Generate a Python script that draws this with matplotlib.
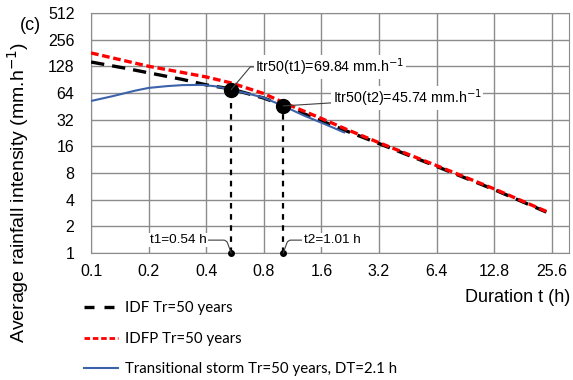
import numpy as np
import matplotlib
matplotlib.use("Agg")
import matplotlib.pyplot as plt
from matplotlib.lines import Line2D

plt.rcParams['font.family'] = ['Liberation Sans', 'DejaVu Sans']

# IDF curve, Tr=50 years
t_idf = [0.1, 0.15, 0.2, 0.3, 0.4, 0.54, 0.8, 1.01, 1.6, 2.2, 3.2, 6.4, 12.8, 24.0]
i_idf = [143, 122, 108, 91, 79, 71, 56, 46.5, 31, 23.5, 17.2, 9.5, 5.2, 2.9]

# IDFP curve, Tr=50 years
t_idfp = [0.1, 0.2, 0.3, 0.4, 0.54, 0.8, 1.01, 1.6, 2.2, 3.2, 6.4, 12.8, 24.0]
i_idfp = [181, 128, 109, 97, 83, 63, 50, 33, 24.5, 17.6, 9.7, 5.3, 2.95]

# transitional storm, DT=2.1 h
t_ts = [0.1, 0.13, 0.17, 0.2, 0.25, 0.3, 0.38, 0.45, 0.54, 0.7, 0.8, 1.01, 1.3, 1.7, 2.1]
i_ts = [52, 59, 68, 73, 76.5, 78.5, 79, 76, 69.84, 61, 56.5, 45.74, 35.5, 28, 23]

t_pts = [0.54, 1.01]
i_pts = [69.84, 45.74]

xticks = [0.1, 0.2, 0.4, 0.8, 1.6, 3.2, 6.4, 12.8, 25.6]
yticks = [1, 2, 4, 8, 16, 32, 64, 128, 256, 512]

fig = plt.figure(figsize=(5.73, 3.80), dpi=100)
ax = fig.add_axes([0.159, 0.334, 0.834, 0.632])

ax.set_xscale('log')
ax.set_yscale('log')
ax.set_xlim(0.1, 31.5)
ax.set_ylim(1, 512)
ax.set_xticks(xticks)
ax.set_xticklabels([str(v) for v in xticks])
ax.set_yticks(yticks)
ax.set_yticklabels([str(v) for v in yticks])
ax.minorticks_off()
ax.tick_params(length=0, labelsize=11.5, pad=8)
ax.tick_params(axis='y', pad=12)
ax.grid(True, color='#8c8c8c', lw=1.0)
for s in ax.spines.values():
    s.set_color('#8c8c8c')

ax.plot(t_idf, i_idf, color='black', lw=2.4, dashes=(4, 2.4), zorder=3)
ax.plot(t_idfp, i_idfp, color='#ff0000', lw=2.4, dashes=(2.3, 1.1), zorder=4)
ax.plot(t_ts, i_ts, color='#3c63aa', lw=1.5, zorder=5)

for t, i in zip(t_pts, i_pts):
    ax.plot([t, t], [1, i], color='black', lw=1.6, dashes=(2.5, 2.5), zorder=6)
    ax.plot(t, i, 'o', color='black', ms=10, zorder=7, clip_on=False)
    ax.plot(t, 1, 'o', color='black', ms=4, zorder=7, clip_on=False)

bb = dict(facecolor='white', edgecolor='none', pad=1)
ap = dict(arrowstyle='-', color='#404040', lw=0.8, shrinkA=0, shrinkB=0)
ax.annotate('Itr50(t1)=69.84 mm.h$^{-1}$', xy=(0.54, 69.84), xytext=(0.72, 126),
            fontsize=10.3, va='center', ha='left', bbox=bb, zorder=8,
            arrowprops=dict(ap, connectionstyle='angle,angleA=0,angleB=50,rad=0'))
ax.annotate('Itr50(t2)=45.74 mm.h$^{-1}$', xy=(1.01, 45.74), xytext=(1.83, 56),
            fontsize=10.3, va='center', ha='left', bbox=bb, zorder=8,
            arrowprops=dict(ap, connectionstyle='arc3'))
ax.annotate('t1=0.54 h', xy=(0.54, 1), xytext=(0.4, 1.4),
            fontsize=9.7, va='center', ha='right', bbox=bb, zorder=8,
            arrowprops=dict(ap, connectionstyle='angle,angleA=0,angleB=110,rad=3'))
ax.annotate('t2=1.01 h', xy=(1.01, 1), xytext=(1.29, 1.4),
            fontsize=9.7, va='center', ha='left', bbox=bb, zorder=8,
            arrowprops=dict(ap, connectionstyle='angle,angleA=0,angleB=70,rad=3'))

fig.text(0.031, 0.495, 'Average rainfall intensity (mm.h$^{-1}$)', rotation=90,
         fontsize=14, ha='center', va='center')
fig.text(0.996, 0.216, 'Duration t (h)', fontsize=13, ha='right', va='center')
fig.text(0.035, 0.934, '(c)', fontsize=13, ha='left', va='center')

handles = [Line2D([], [], color='black', lw=2.4, dashes=(3, 3)),
           Line2D([], [], color='#ff0000', lw=2, dashes=(2, 1)),
           Line2D([], [], color='#3c63aa', lw=1.5)]
labels = ['IDF Tr=50 years', 'IDFP Tr=50 years',
          'Transitional storm Tr=50 years, DT=2.1 h']
fig.legend(handles, labels, loc='upper left', bbox_to_anchor=(0.147, 0.207),
           frameon=False, handlelength=2.27, handletextpad=0.47, labelspacing=1.1,
           borderaxespad=0, borderpad=0, prop={'family': 'Lato', 'size': 10.8})

fig.savefig('out.png', dpi=100)
